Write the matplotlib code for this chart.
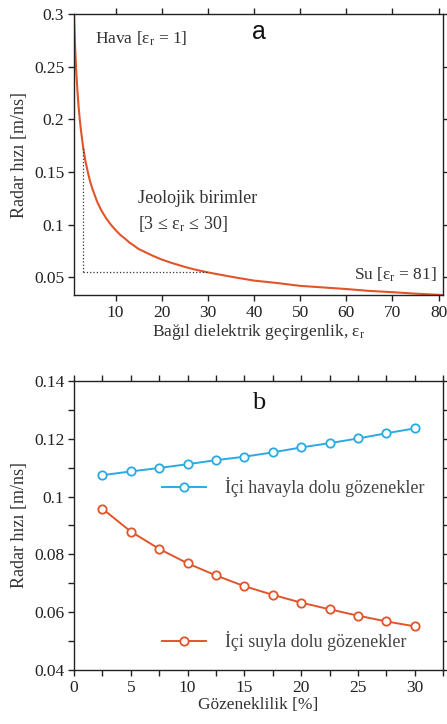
import matplotlib
matplotlib.use("Agg")
import matplotlib.pyplot as plt
from matplotlib.ticker import MultipleLocator, FixedLocator
from matplotlib.lines import Line2D

plt.rcParams['font.family'] = ['Liberation Serif', 'DejaVu Serif']
plt.rcParams['mathtext.fontset'] = 'custom'
plt.rcParams['mathtext.rm'] = 'Liberation Serif'
plt.rcParams['mathtext.it'] = 'Liberation Serif'

# Panel a data: relative permittivity vs radar velocity
eps_r = [1, 1.1, 1.25, 1.4, 1.5, 1.75, 2, 2.25, 2.5, 3, 3.5, 4, 4.5, 5, 5.5, 6, 7, 8, 9, 10, 11, 12, 13,
         14, 15, 17, 18, 20, 22, 25, 27, 30, 35, 40, 45, 50, 55, 60, 65, 70, 75, 81]
velocity = [0.300, 0.286, 0.268, 0.254, 0.245, 0.227, 0.212, 0.200, 0.190, 0.173, 0.160, 0.150, 0.141,
            0.134, 0.128, 0.122, 0.113, 0.106, 0.100, 0.095, 0.0905, 0.087, 0.0832, 0.0802, 0.077,
            0.0728, 0.0707, 0.067, 0.064, 0.060, 0.0577, 0.0548, 0.0507, 0.047, 0.0447, 0.042, 0.0405,
            0.039, 0.0372, 0.036, 0.0346, 0.0333]
geo_eps = [3, 30]
geo_v = [0.173, 0.0548]

# Panel b data
porosity = [2.5, 5, 7.5, 10, 12.5, 15, 17.5, 20, 22.5, 25, 27.5, 30]
v_air = [0.1074, 0.1087, 0.1099, 0.1112, 0.1126, 0.1138, 0.1153, 0.1170, 0.1185, 0.1201, 0.1219, 0.1236]
v_water = [0.0958, 0.0879, 0.0819, 0.0769, 0.0727, 0.0690, 0.0660, 0.0633, 0.0610, 0.0588, 0.0568, 0.0551]

red = '#e2542a'
blue = '#2aaae2'
txt = '#333333'

fig = plt.figure(figsize=(4.47, 7.24), dpi=100)
ax1 = fig.add_axes([0.1655, 0.5925, 0.826, 0.3882])
ax2 = fig.add_axes([0.1655, 0.0746, 0.826, 0.3992])

for ax in (ax1, ax2):
    ax.tick_params(direction='out', top=True, right=True, labeltop=False, labelright=False,
                   labelsize=12.5, length=4, width=1, colors='#222222', which='both', pad=3)
    for s in ax.spines.values():
        s.set_linewidth(1)
        s.set_color('#222222')

# Panel a
ax1.plot(eps_r, velocity, color=red, lw=1.5)
ax1.plot([geo_eps[0], geo_eps[0]], [geo_v[1], geo_v[0]], color='#333333', ls=':', lw=0.9)
ax1.plot([geo_eps[0], geo_eps[1]], [geo_v[1], geo_v[1]], color='#333333', ls=':', lw=0.9)
ax1.set_xlim(1, 81)
ax1.set_ylim(0.0333, 0.3)
ax1.xaxis.set_major_locator(FixedLocator([10, 20, 30, 40, 50, 60, 70, 80]))
ax1.yaxis.set_major_locator(FixedLocator([0.05, 0.1, 0.15, 0.2, 0.25, 0.3]))
ax1.set_yticklabels(['0.05', '0.1', '0.15', '0.2', '0.25', '0.3'])
ax1.set_xlabel('Bağıl dielektrik geçirgenlik, ε$_\\mathrm{r}$', fontsize=12.5, color=txt, labelpad=1)
ax1.set_ylabel('Radar hızı [m/ns]', fontsize=13, color=txt, labelpad=4)
ax1.text(5.5, 0.276, 'Hava [ε$_\\mathrm{r}$ = 1]', fontsize=12.5, color=txt, va='center')
ax1.text(0.5, 0.937, 'a', transform=ax1.transAxes, fontsize=18, family='Liberation Sans',
         ha='center', va='center', color='#111111')
ax1.text(14.8, 0.125, 'Jeolojik birimler', fontsize=13, color=txt, va='center')
ax1.text(14.8, 0.101, '[3 ≤ ε$_\\mathrm{r}$ ≤ 30]', fontsize=13, color=txt, va='center')
ax1.text(79.6, 0.0525, 'Su [ε$_\\mathrm{r}$ = 81]', fontsize=12.5, color=txt, va='center', ha='right')

# Panel b
ax2.plot(porosity, v_air, color=blue, lw=1.4, marker='o', ms=6, mfc='white', mew=1.3)
ax2.plot(porosity, v_water, color=red, lw=1.4, marker='o', ms=6, mfc='white', mew=1.3)
ax2.set_xlim(0, 32.5)
ax2.set_ylim(0.04, 0.14)
ax2.xaxis.set_major_locator(MultipleLocator(5))
ax2.xaxis.set_minor_locator(MultipleLocator(2.5))
ax2.yaxis.set_major_locator(FixedLocator([0.04, 0.06, 0.08, 0.1, 0.12, 0.14]))
ax2.yaxis.set_minor_locator(MultipleLocator(0.01))
ax2.set_yticklabels(['0.04', '0.06', '0.08', '0.1', '0.12', '0.14'])
ax2.set_xlabel('Gözeneklilik [%]', fontsize=12.5, color=txt, labelpad=1)
ax2.set_ylabel('Radar hızı [m/ns]', fontsize=13, color=txt, labelpad=4)
ax2.text(0.5, 0.925, 'b', transform=ax2.transAxes, fontsize=19, ha='center', va='center', color='#111111')

h_air = Line2D([], [], color=blue, lw=1.4, marker='o', ms=6, mfc='white', mew=1.3)
h_water = Line2D([], [], color=red, lw=1.4, marker='o', ms=6, mfc='white', mew=1.3)
leg1 = ax2.legend([h_air], ['İçi havayla dolu gözenekler'], loc='center left',
                  bbox_to_anchor=(0.195, 0.633), frameon=False, fontsize=13,
                  handlelength=2.4, handletextpad=1.05, labelcolor='#444444')
ax2.add_artist(leg1)
ax2.legend([h_water], ['İçi suyla dolu gözenekler'], loc='center left',
           bbox_to_anchor=(0.195, 0.10), frameon=False, fontsize=13,
           handlelength=2.4, handletextpad=1.05, labelcolor='#444444')

fig.savefig('out.png', dpi=100)
